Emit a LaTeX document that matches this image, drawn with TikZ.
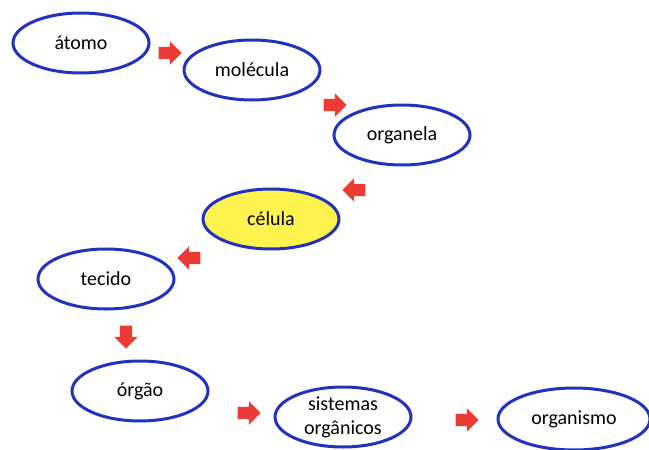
\documentclass[tikz,border=0pt]{standalone}
\usepackage{fontspec}
\setmainfont{Carlito}
\usetikzlibrary{shapes.geometric,shapes.arrows}
\definecolor{ringblue}{HTML}{2233BB}
\definecolor{cellyellow}{HTML}{FFF44F}
\definecolor{arrowred}{HTML}{EC3B35}
\begin{document}
\begin{tikzpicture}[x=1pt,y=-1pt,
  stage/.style={ellipse,draw=ringblue,line width=3pt,fill=white,minimum width=136pt,minimum height=60pt,inner sep=0pt,align=center,font=\fontsize{20}{24}\selectfont},
  redarrow/.style={single arrow,fill=arrowred,draw=none,inner sep=6pt,single arrow head extend=5.5pt,minimum height=23pt}]
\useasboundingbox (0,0) rectangle (649,450);
\begin{scope}
\clip (0,0) rectangle (649,450);
\node[stage] (atomo) at (81,43) {átomo};
\node[stage] (molecula) at (252,70) {molécula};
\node[stage] (organela) at (402,135) {organela};
\node[stage,fill=cellyellow] (celula) at (271,219) {célula};
\node[stage] (tecido) at (106,279) {tecido};
\node[stage] (orgao) at (140,391) {órgão};
\node[stage] (sistemas) at (343,417) {sistemas\\orgânicos};
\node[stage,minimum width=152pt,minimum height=62pt] (organismo) at (574,419) {organismo};
\end{scope}
\node[redarrow] (a1) at (167,53) {};
\node[redarrow] (a2) at (332,105) {};
\node[redarrow,shape border rotate=180] (a3) at (357,190) {};
\node[redarrow,shape border rotate=180] (a4) at (192,258) {};
\node[redarrow,shape border rotate=270] (a5) at (126,334) {};
\node[redarrow] (a6) at (246,413) {};
\node[redarrow] (a7) at (464,420) {};
\end{tikzpicture}
\end{document}
